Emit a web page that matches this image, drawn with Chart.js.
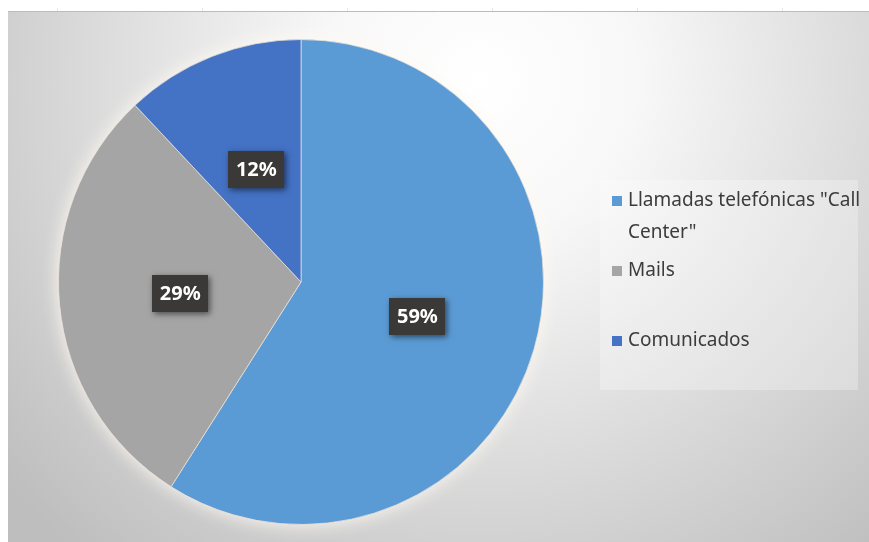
<!DOCTYPE html>
<html lang="es">
<head>
<meta charset="UTF-8">
<title>Canales de comunicación</title>
<script src="https://cdn.jsdelivr.net/npm/chart.js"></script>
<style>
  body { margin: 0; background: #fff; overflow: hidden; }
  canvas { display: block; }
</style>
</head>
<body>
<canvas id="grafico" width="869" height="542"></canvas>
<script>
  // canales de atención y su peso (%)
  const canales = [['Llamadas telefónicas "Call', 'Center"'], 'Mails', 'Comunicados'];
  const porcentajes = [59, 29, 12];

  // fondo degradado + línea superior
  const fondo = {
    id: 'fondo',
    beforeDraw(chart) {
      const ctx = chart.ctx;
      const w = chart.width, h = chart.height;
      ctx.save();
      ctx.fillStyle = '#ffffff';
      ctx.fillRect(0, 0, w, h);
      const g = ctx.createRadialGradient(480, 80, 0, 480, 80, 620);
      g.addColorStop(0, '#ffffff');
      g.addColorStop(0.25, '#f8f8f8');
      g.addColorStop(1, '#bebebe');
      ctx.fillStyle = g;
      ctx.fillRect(8, 12, w - 8, h - 12);
      ctx.strokeStyle = '#bcbcbc';
      ctx.lineWidth = 1;
      ctx.beginPath();
      ctx.moveTo(8, 11.5);
      ctx.lineTo(w, 11.5);
      ctx.stroke();
      ctx.strokeStyle = '#e6e6e6';
      for (let x = 57; x < w; x += 145) {
        ctx.beginPath();
        ctx.moveTo(x + 0.5, 8);
        ctx.lineTo(x + 0.5, 11);
        ctx.stroke();
      }
      ctx.restore();
    }
  };

  // halo claro alrededor de la torta
  const halo = {
    id: 'halo',
    beforeDatasetsDraw(chart) {
      const arc = chart.getDatasetMeta(0).data[0];
      if (!arc) return;
      const ctx = chart.ctx;
      ctx.save();
      ctx.shadowColor = 'rgba(255,250,242,1)';
      ctx.shadowBlur = 18;
      ctx.fillStyle = '#ffffff';
      ctx.beginPath();
      ctx.arc(arc.x, arc.y, arc.outerRadius, 0, Math.PI * 2);
      ctx.fill();
      ctx.restore();
    }
  };

  // etiquetas de porcentaje en cajas oscuras
  const etiquetas = {
    id: 'etiquetas',
    afterDatasetsDraw(chart) {
      const ctx = chart.ctx;
      const data = chart.data.datasets[0].data;
      const total = data.reduce((a, b) => a + b, 0);
      chart.getDatasetMeta(0).data.forEach((arc, i) => {
        const p = arc.tooltipPosition();
        const txt = Math.round(data[i] / total * 100) + '%';
        ctx.save();
        ctx.shadowColor = 'rgba(0,0,0,0.55)';
        ctx.shadowBlur = 6;
        ctx.shadowOffsetX = 2;
        ctx.shadowOffsetY = 2;
        ctx.fillStyle = '#3a3937';
        ctx.fillRect(Math.round(p.x - 28), Math.round(p.y - 18), 56, 37);
        ctx.restore();
        ctx.save();
        ctx.font = 'bold 20px "Noto Sans"';
        ctx.fillStyle = '#ffffff';
        ctx.textAlign = 'center';
        ctx.textBaseline = 'middle';
        ctx.fillText(txt, p.x, p.y + 1);
        ctx.restore();
      });
    }
  };

  // leyenda a la derecha, una franja igual por entrada
  const leyenda = {
    id: 'leyenda',
    afterDraw(chart) {
      const ctx = chart.ctx;
      const labels = chart.data.labels;
      const colors = chart.data.datasets[0].backgroundColor;
      const box = { x: 600, y: 180, w: 258, h: 210 };
      const slot = box.h / labels.length;
      ctx.save();
      ctx.fillStyle = 'rgba(255,255,255,0.28)';
      ctx.fillRect(box.x, box.y, box.w, box.h);
      ctx.font = '19px "Noto Sans"';
      ctx.textBaseline = 'alphabetic';
      labels.forEach((lab, i) => {
        const base = box.y + i * slot + 26;
        ctx.fillStyle = colors[i];
        ctx.fillRect(612, base - 10, 10, 10);
        ctx.fillStyle = '#3c3c3c';
        [].concat(lab).forEach((t, j) => ctx.fillText(t, 628, base + j * 32));
      });
      ctx.restore();
    }
  };

  new Chart(document.getElementById('grafico'), {
    type: 'pie',
    data: {
      labels: canales,
      datasets: [{
        data: porcentajes,
        backgroundColor: ['#5b9bd5', '#a5a5a5', '#4472c4'],
        borderColor: 'rgba(236,226,214,0.75)',
        borderWidth: 1
      }]
    },
    options: {
      responsive: false,
      animation: false,
      events: [],
      layout: { padding: { left: 58, right: 325, top: 39, bottom: 17 } },
      plugins: {
        legend: { display: false },
        tooltip: { enabled: false }
      }
    },
    plugins: [fondo, halo, etiquetas, leyenda]
  });
</script>
</body>
</html>
